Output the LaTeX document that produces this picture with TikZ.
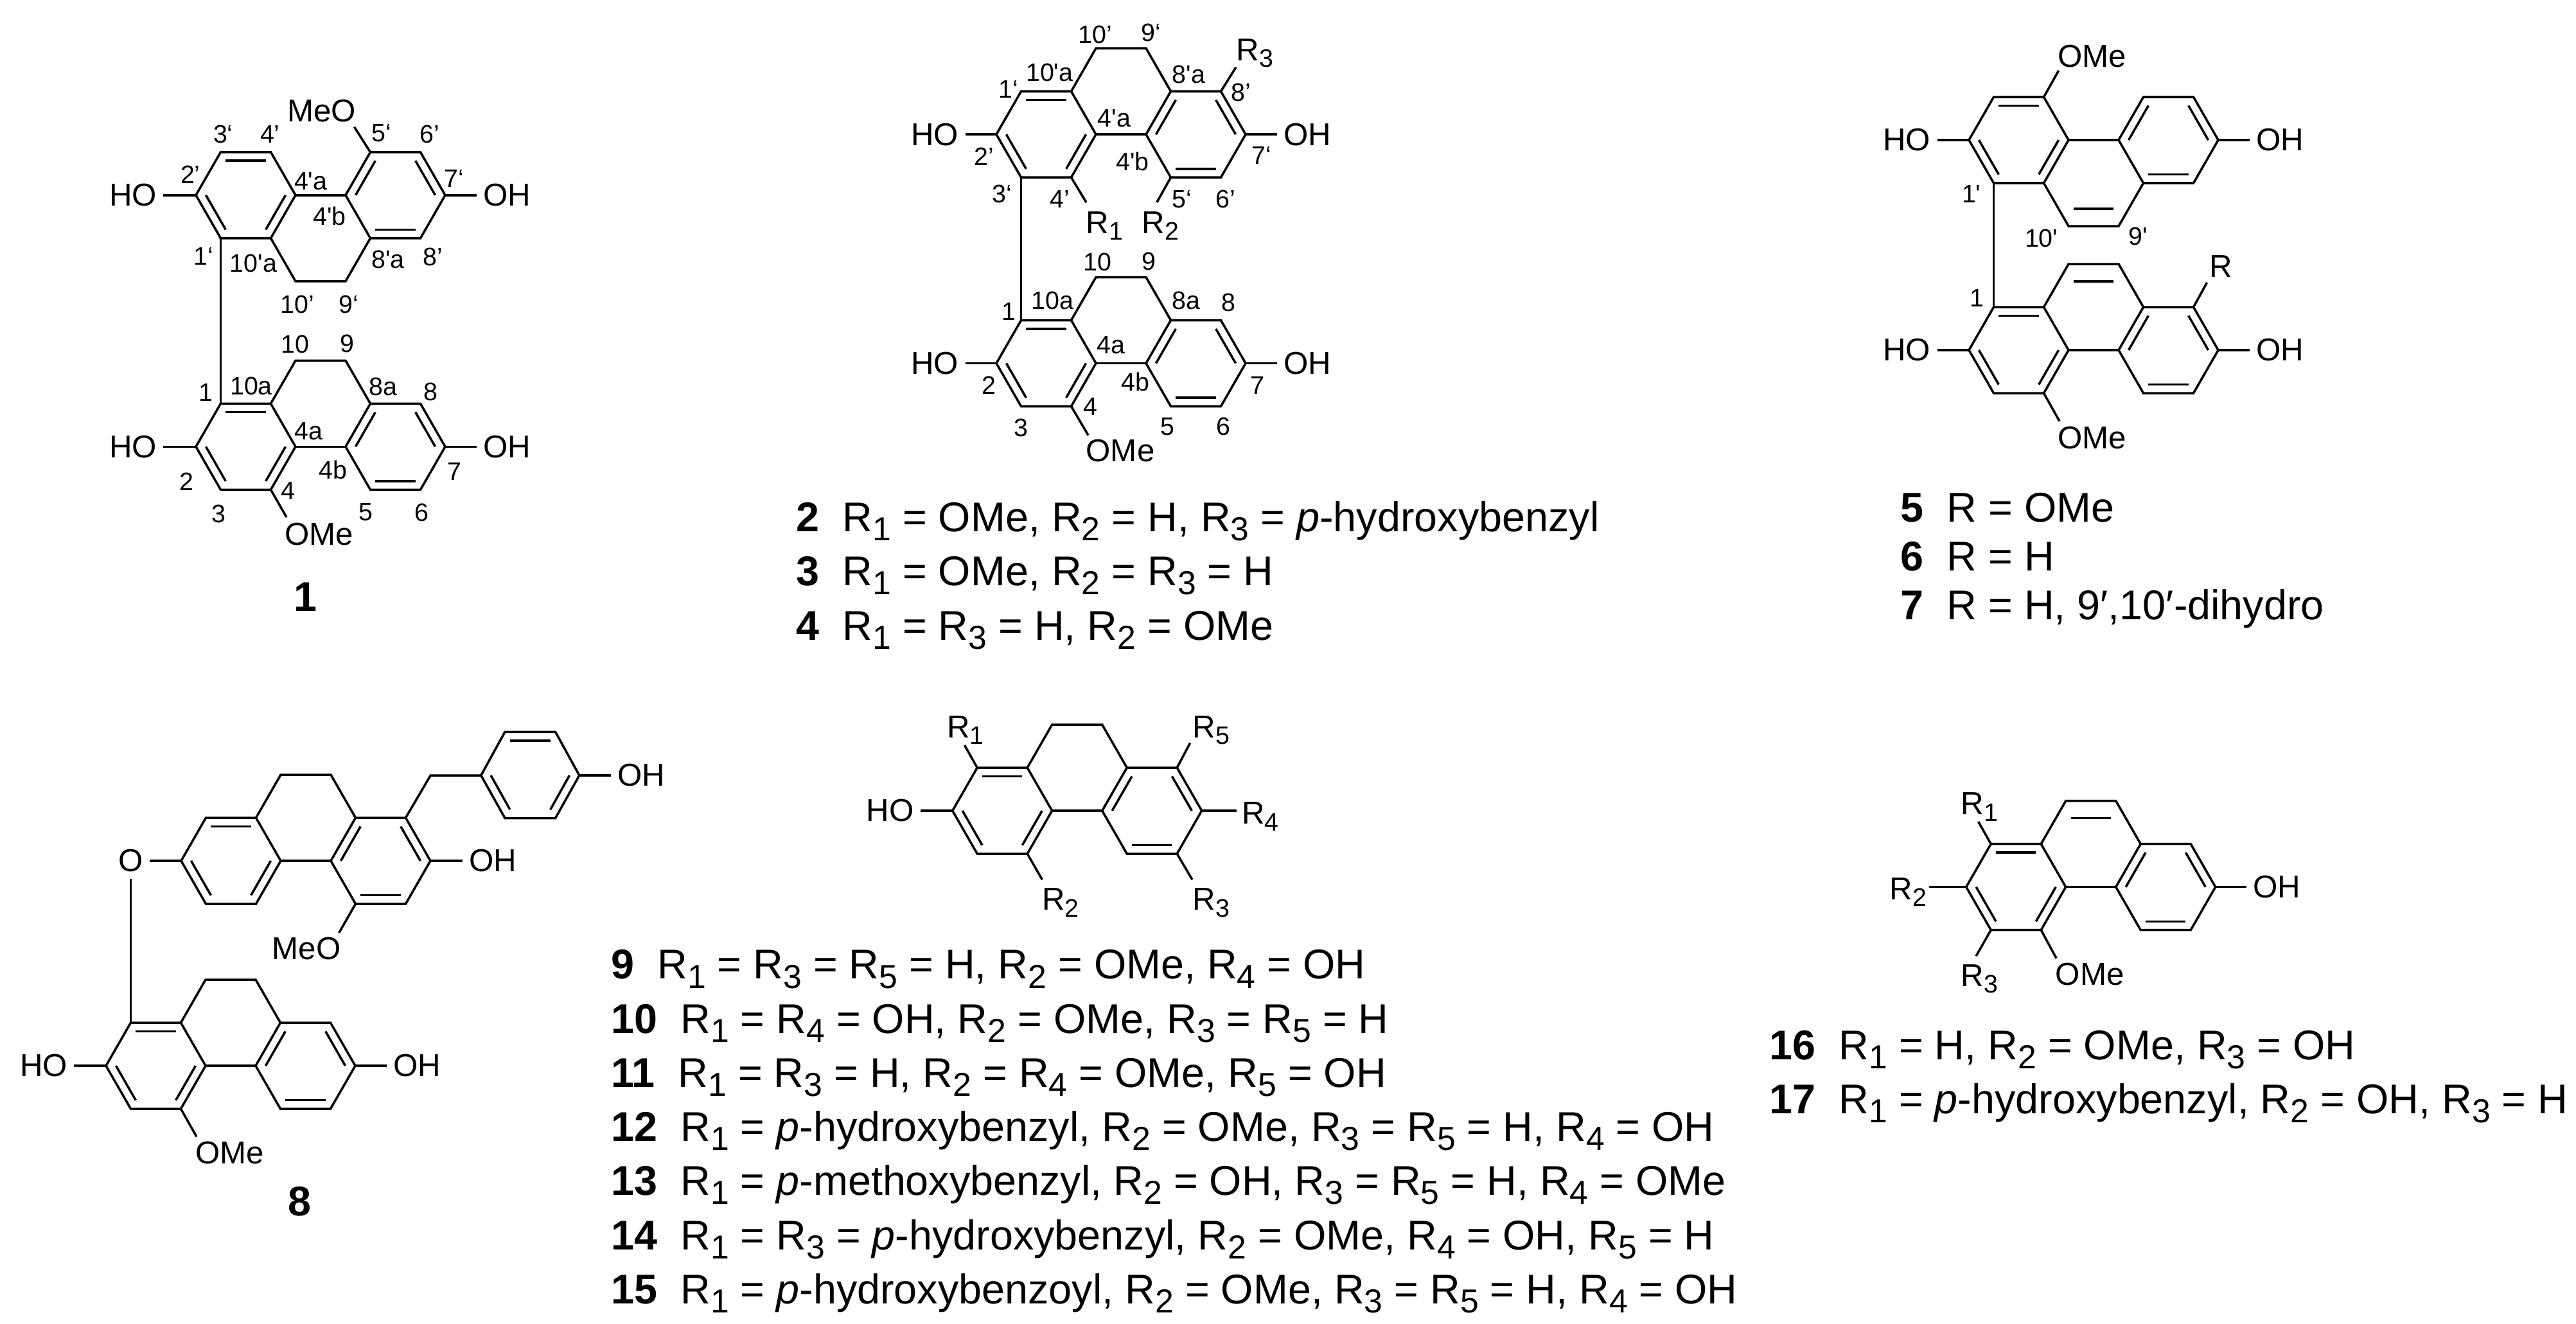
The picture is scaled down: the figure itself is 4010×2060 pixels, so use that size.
\documentclass[tikz,border=0pt]{standalone}
\usepackage{fontspec}
\usepackage{graphicx}
\setmainfont{Liberation Sans}
\usetikzlibrary{calc}
\tikzset{
  bond/.style={line width=1pt},
  subst/.style={font=\fontsize{14}{16}\selectfont,inner sep=2.8pt},
  rgroup/.style={font=\fontsize{14}{16}\selectfont,inner sep=0pt,anchor=base west},
  numlab/.style={font=\fontsize{11.2}{13}\selectfont,inner sep=0pt},
  cpd/.style={font=\fontsize{18.4}{20}\selectfont,inner sep=0pt,anchor=base west}
}
\newcommand{\sq}{\textquotesingle}
\newcommand{\Rn}[1]{R\raisebox{-.22em}{\scalebox{.8}{#1}}}
% three rings, left end atom at (#2,#3)
\newcommand{\phen}[3]{
  \coordinate (#1a) at (#2,#3);
  \coordinate (#1b) at (#2+38.5,#3-67);
  \coordinate (#1c) at (#2+116.5,#3-67);
  \coordinate (#1d) at (#2+155,#3);
  \coordinate (#1e) at (#2+116.5,#3+67);
  \coordinate (#1f) at (#2+38.5,#3+67);
  \coordinate (#1g) at (#2+233,#3);
  \coordinate (#1h) at (#2+271.5,#3-67);
  \coordinate (#1i) at (#2+349.5,#3-67);
  \coordinate (#1j) at (#2+388,#3);
  \coordinate (#1k) at (#2+349.5,#3+67);
  \coordinate (#1l) at (#2+271.5,#3+67);
  \coordinate (#1cl) at (#2+77.5,#3);
  \coordinate (#1cr) at (#2+310.5,#3);
  \draw[bond] (#1a) -- (#1b) -- (#1c) -- (#1d) -- (#1e) -- (#1f) -- cycle;
  \draw[bond] (#1g) -- (#1h) -- (#1i) -- (#1j) -- (#1k) -- (#1l) -- cycle;
  \draw[bond] (#1d) -- (#1g);
  \foreach \p/\q/\c in {b/c/cl,a/f/cl,d/e/cl,g/h/cr,i/j/cr,k/l/cr}
    \draw[bond] ($(#1\p)!0.2!(#1\c)$) -- ($(#1\q)!0.2!(#1\c)$);
}
\newcommand{\bridgetop}[1]{
  \coordinate (#1m) at ($(#1c)+(38.5,-67)$);
  \coordinate (#1n) at ($(#1h)+(-38.5,-67)$);
  \draw[bond] (#1c) -- (#1m) -- (#1n) -- (#1h);
}
\newcommand{\bridgebot}[1]{
  \coordinate (#1m) at ($(#1e)+(38.5,67)$);
  \coordinate (#1n) at ($(#1l)+(-38.5,67)$);
  \draw[bond] (#1e) -- (#1m) -- (#1n) -- (#1l);
}
\newcommand{\bridgedbl}[1]{
  \coordinate (#1cm) at ($(#1d)!0.5!(#1g)$);
  \draw[bond] ($(#1m)!0.2!(#1cm)$) -- ($(#1n)!0.2!(#1cm)$);
}
% bond with a free end next to its label
\newcommand{\stub}[3]{
  \coordinate (#1) at (#3);
  \draw[bond] (#2) -- (#1);
}
\begin{document}
\begin{tikzpicture}[x=0.01cm,y=-0.01cm]
\useasboundingbox (0,0) rectangle (4010,2060);

% compound 1
\phen{au}{305}{303.8}
\bridgebot{au}
\phen{al}{305}{695.3}
\bridgetop{al}
\draw[bond] (auf) -- (alb);
\node[subst] (ahou) at (207,303.8) {HO};
\node[subst] (aohu) at (789,303.8) {OH};
\node[subst] (ahol) at (207,695.3) {HO};
\node[subst] (aohl) at (789,695.3) {OH};
\draw[bond] (ahou) -- (aua);
\draw[bond] (aohu) -- (auj);
\draw[bond] (ahol) -- (ala);
\draw[bond] (aohl) -- (alj);
\node[subst] (ameo) at (500.5,173) {MeO};
\stub{aeu}{auh}{551.5,197.6}
\node[subst] (aome) at (497,832) {OMe};
\stub{ael}{ale}{446,805}
\foreach \t/\x/\y [count=\i] in {3‘/347.4/209,4’/420.4/209,5‘/594/207,6’/669/209,2’/296.4/272,
  4\sq a/483.7/282,7‘/707/278,4\sq b/513/336.5,1‘/317/398.5,10\sq a/394.4/410,8\sq a/604/404,
  8’/674/400,10’/463/474,9‘/543/474,10/459.7/536,9/540/534.6,1/320/611,10a/391/601,8a/596.4/602,
  8/670/610,4a/480/671,4b/518/731,2/290/750,7/707/734,4/448.5/764,3/340/800,5/569/797.5,6/656/797.5}
  \node[numlab] (alab\i) at (\x,\y) {\t};
\node[cpd,anchor=center] (cpda) at (475,929.5) {\textbf{1}};

% compounds 2-4
\phen{bu}{1551}{209.2}
\bridgetop{bu}
\phen{bl}{1551}{565.5}
\bridgetop{bl}
\draw[bond] (buf) -- (blb);
\node[subst] (bhou) at (1455,209.2) {HO};
\node[subst] (bohu) at (2035.5,209.2) {OH};
\node[subst] (bhol) at (1455,565.5) {HO};
\node[subst] (bohl) at (2035.5,565.5) {OH};
\draw[bond] (bhou) -- (bua);
\draw[bond] (bohu) -- (buj);
\draw[bond] (bhol) -- (bla);
\draw[bond] (bohl) -- (blj);
\node[subst] (bome) at (1744,701.5) {OMe};
\stub{bel}{ble}{1694,677.5}
\node[rgroup] (brone) at (1690,363) {\Rn{1}};
\stub{bea}{bue}{1691,315}
\node[rgroup] (brtwo) at (1777,363) {\Rn{2}};
\stub{beb}{bul}{1800.8,315}
\node[rgroup] (brthree) at (1924,94) {\Rn{3}};
\stub{bec}{bui}{1924,104.6}
\foreach \t/\x/\y [count=\i] in {10’/1705/53.6,9‘/1792/51,10\sq a/1633.7/113,8\sq a/1850.5/116,
  8’/1932/144,1‘/1570/139,4\sq a/1734.5/183.7,2’/1531.6/244,4\sq b/1763/251,7‘/1963.4/242,
  3‘/1560/302,4’/1649.6/310,5‘/1839.7/310,6’/1908/310,10/1708/408,9/1788.7/406.6,10a/1638.8/468,
  8a/1846.7/468,8/1912.4/471,1/1570/485,4a/1729.3/537,4b/1767.6/594,2/1539.3/599.5,7/1957/599.5,
  4/1697.5/632.7,3/1589/666,5/1817/664,6/1904.7/664}
  \node[numlab] (blab\i) at (\x,\y) {\t};
\node[cpd] (cpdb) at (1239,827) {\textbf{2}\ \ \Rn{1} = OMe, \Rn{2} = H, \Rn{3} = \textit{p}-hydroxybenzyl};
\node[cpd] (cpdc) at (1239,911.7) {\textbf{3}\ \ \Rn{1} = OMe, \Rn{2} = \Rn{3} = H};
\node[cpd] (cpdd) at (1239,996.7) {\textbf{4}\ \ \Rn{1} = \Rn{3} = H, \Rn{2} = OMe};

% compounds 5-7
\phen{cu}{3065}{218}
\bridgebot{cu}
\bridgedbl{cu}
\phen{cl}{3065}{545}
\bridgetop{cl}
\bridgedbl{cl}
\draw[bond] (cuf) -- (clb);
\node[subst] (chou) at (2968,218) {HO};
\node[subst] (cohu) at (3549,218) {OH};
\node[subst] (chol) at (2968,545) {HO};
\node[subst] (cohl) at (3549,545) {OH};
\draw[bond] (chou) -- (cua);
\draw[bond] (cohu) -- (cuj);
\draw[bond] (chol) -- (cla);
\draw[bond] (cohl) -- (clj);
\node[subst] (comeu) at (3256.4,87.8) {OMe};
\stub{ceu}{cuc}{3204.7,109.7}
\node[subst] (comel) at (3256.4,682) {OMe};
\stub{cel}{cle}{3205.9,655.6}
\node[rgroup] (cr) at (3438.4,431) {R};
\stub{cer}{cli}{3435.5,439.8}
\foreach \t/\x/\y [count=\i] in {1\sq/3068.7/302,10\sq/3177.7/371,9\sq/3328/368,1/3077/464}
  \node[numlab] (clab\i) at (\x,\y) {\t};
\node[cpd] (cpde) at (2958,812) {\textbf{5}\ \ R = OMe};
\node[cpd] (cpdf) at (2958,888) {\textbf{6}\ \ R = H};
\node[cpd] (cpdg) at (2958,964) {\textbf{7}\ \ R = H, 9′,10′-dihydro};

% compound 8
\phen{du}{282}{1340}
\bridgetop{du}
\phen{dl}{165}{1659}
\bridgetop{dl}
\node[subst] (dox) at (203.5,1340) {O};
\draw[bond] (dox) -- (dua);
\draw[bond] (dox) -- (dlb);
\node[subst] (dohu) at (767,1340) {OH};
\draw[bond] (dohu) -- (duj);
\node[subst] (dmeo) at (477,1476.5) {MeO};
\stub{deu}{dul}{527.7,1452}
\node[subst] (dhol) at (68,1659) {HO};
\node[subst] (dohl) at (649,1659) {OH};
\draw[bond] (dhol) -- (dla);
\draw[bond] (dohl) -- (dlj);
\node[subst] (dome) at (358,1795) {OMe};
\stub{del}{dle}{306,1769.4}
\coordinate (dch) at (670.2,1207);
\coordinate (dra) at (748.8,1207);
\coordinate (drb) at (786,1139.3);
\coordinate (drc) at (864.6,1139.3);
\coordinate (drd) at (901.8,1207);
\coordinate (dre) at (864.6,1273.5);
\coordinate (drf) at (786,1273.5);
\coordinate (drm) at (825.3,1207);
\draw[bond] (dui) -- (dch) -- (dra);
\draw[bond] (dra) -- (drb) -- (drc) -- (drd) -- (dre) -- (drf) -- cycle;
\foreach \p/\q in {b/c,a/f,d/e}
  \draw[bond] ($(dr\p)!0.2!(drm)$) -- ($(dr\q)!0.2!(drm)$);
\node[subst] (dohr) at (998.6,1207) {OH};
\draw[bond] (dohr) -- (drd);
\node[cpd,anchor=center] (cpdh) at (466.7,1870.4) {\textbf{8}};

% compounds 9-15
\phen{e}{1482.7}{1262}
\bridgetop{e}
\node[subst] (ehol) at (1385.7,1262) {HO};
\draw[bond] (ehol) -- (ea);
\node[rgroup] (erone) at (1473.5,1148) {\Rn{1}};
\stub{eea}{eb}{1501.5,1160}
\node[rgroup] (erfive) at (1856,1148) {\Rn{5}};
\stub{eee}{ei}{1852.5,1156.7}
\node[rgroup] (erfour) at (1932.7,1282.7) {\Rn{4}};
\stub{eed}{ej}{1925,1262}
\node[rgroup] (ertwo) at (1621.4,1416.7) {\Rn{2}};
\stub{eeb}{ee}{1622.4,1369.3}
\node[rgroup] (erthree) at (1856,1416.7) {\Rn{3}};
\stub{eec}{ek}{1856,1369.3}
\node[cpd] (cpdi) at (950.7,1523.8) {\textbf{9}\ \ \Rn{1} = \Rn{3} = \Rn{5} = H, \Rn{2} = OMe, \Rn{4} = OH};
\node[cpd] (cpdj) at (950.7,1608) {\textbf{10}\ \ \Rn{1} = \Rn{4} = OH, \Rn{2} = OMe, \Rn{3} = \Rn{5} = H};
\node[cpd] (cpdk) at (950.7,1692) {\textbf{11}\ \ \Rn{1} = \Rn{3} = H, \Rn{2} = \Rn{4} = OMe, \Rn{5} = OH};
\node[cpd] (cpdl) at (950.7,1776) {\textbf{12}\ \ \Rn{1} = \textit{p}-hydroxybenzyl, \Rn{2} = OMe, \Rn{3} = \Rn{5} = H, \Rn{4} = OH};
\node[cpd] (cpdm) at (950.7,1860) {\textbf{13}\ \ \Rn{1} = \textit{p}-methoxybenzyl, \Rn{2} = OH, \Rn{3} = \Rn{5} = H, \Rn{4} = OMe};
\node[cpd] (cpdn) at (950.7,1945) {\textbf{14}\ \ \Rn{1} = \Rn{3} = \textit{p}-hydroxybenzyl, \Rn{2} = OMe, \Rn{4} = OH, \Rn{5} = H};
\node[cpd] (cpdo) at (950.7,2029) {\textbf{15}\ \ \Rn{1} = \textit{p}-hydroxybenzoyl, \Rn{2} = OMe, \Rn{3} = \Rn{5} = H, \Rn{4} = OH};

% compounds 16, 17
\phen{f}{3060.7}{1380.7}
\bridgetop{f}
\bridgedbl{f}
\node[subst] (fohr) at (3544,1380.7) {OH};
\draw[bond] (fohr) -- (fj);
\node[subst] (fome) at (3253,1517) {OMe};
\stub{fem}{fe}{3201,1491.7}
\node[rgroup] (frone) at (3052,1267.3) {\Rn{1}};
\stub{fea}{fb}{3079.6,1279}
\node[rgroup] (frtwo) at (2940.8,1400) {\Rn{2}};
\stub{feb}{fa}{3003,1380.7}
\node[rgroup] (frthree) at (3052,1535) {\Rn{3}};
\stub{fec}{ff}{3076,1488.3}
\node[cpd] (cpdp) at (2754,1649.3) {\textbf{16}\ \ \Rn{1} = H, \Rn{2} = OMe, \Rn{3} = OH};
\node[cpd] (cpdq) at (2754,1733.3) {\textbf{17}\ \ \Rn{1} = \textit{p}-hydroxybenzyl, \Rn{2} = OH, \Rn{3} = H};
\end{tikzpicture}
\end{document}
